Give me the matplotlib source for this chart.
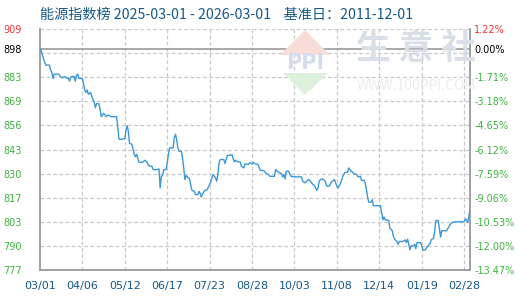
import numpy as np
import matplotlib
matplotlib.use("Agg")
import matplotlib.pyplot as plt
from matplotlib.patches import Polygon

plt.rcParams['font.family'] = ['Noto Sans CJK SC', 'DejaVu Sans']

# days after 2025-03-01 and index value
days = [0, 1, 2, 3, 4, 5, 8, 9, 10, 11, 12, 16, 17, 19, 21, 22, 24, 25, 26, 27,
        29, 30, 31, 32, 33, 36, 37, 38, 39, 40, 41, 43, 44, 45, 46, 47, 48, 50, 51, 52,
        54, 55, 56, 58, 60, 65, 66, 67, 68, 72, 73, 74, 75, 76, 78, 79, 80, 81, 82, 84,
        87, 89, 91, 92,
        95, 96, 100, 101, 102, 103, 104, 105, 107, 108, 109, 110, 113, 114, 115, 116,
        117, 118, 120, 121, 122, 123, 124, 126, 127, 128, 129, 131, 132, 134, 135, 136,
        137, 138, 140, 142, 143, 144, 146, 147, 149, 150, 151, 152, 153, 156, 157, 158,
        159, 163, 164, 165, 166, 168, 170,
        171, 173, 174, 177, 178, 180, 181, 182, 185, 187, 190, 192, 194, 195, 199, 200,
        202, 204, 205, 206, 207, 208, 209, 211, 213, 216, 222, 223, 225, 226, 228, 229,
        231, 233, 234, 235, 236, 237, 238, 240, 242, 243, 244, 246, 247, 248, 250, 251,
        252, 253, 254, 255, 256, 257, 259, 261, 262, 264, 265, 267, 269, 270, 272,
        273, 275, 276, 277, 278, 279, 281, 282, 283, 289, 290, 291, 292, 293, 296, 297,
        299, 300, 301, 303, 304, 305, 308, 310, 311, 312, 313, 314, 315, 317, 318, 319,
        320, 323, 324, 325, 327, 329, 331, 332, 334, 335, 336, 338, 339, 340, 341, 342,
        345, 347, 348, 350, 352, 360, 361, 362, 363, 364, 365]
values = [898.0, 897.1, 894.7, 892.5, 890.7, 889.2, 889.2, 886.6, 885.2, 881.9, 884.3, 884.3, 883.2, 882.2, 883.0, 882.2, 882.1, 880.4, 882.4, 883.0,
          883.0, 880.4, 883.7, 884.3, 881.9, 881.9, 878.8, 875.5, 874.2, 875.6, 873.3, 874.2, 872.0, 870.5, 869.0, 865.9, 868.1, 868.1, 865.0, 861.0,
          862.8, 862.1, 861.0, 861.9, 861.0, 861.0, 855.5, 848.9, 848.5, 848.9, 853.6, 856.0, 853.1, 846.3, 845.9, 843.0, 840.3, 839.0, 840.3, 836.0,
          836.0, 837.1, 836.0, 834.2,
          833.8, 832.0, 832.0, 832.4, 821.9, 828.3, 828.7, 832.0, 832.0, 835.7, 840.3, 843.9, 843.9, 849.4, 851.3, 848.5,
          843.9, 842.1, 842.1, 838.4, 832.9, 826.5, 828.7, 827.4, 826.9, 823.2, 820.6, 820.1, 818.3, 818.3, 820.1, 818.8,
          817.0, 818.8, 820.6, 821.0, 822.8, 823.8, 827.4, 829.3, 827.4, 825.6, 829.3, 835.7, 837.5, 837.5, 835.3, 837.5,
          839.7, 840.1, 837.9, 836.2, 837.1, 836.2, 836.2,
          833.8, 832.9, 835.1, 834.8, 835.7, 835.1, 836.0, 835.3, 834.8, 831.5, 831.5, 829.8, 829.3, 828.3, 828.3, 832.0,
          830.7, 830.2, 829.8, 828.0, 829.3, 826.9, 831.1, 831.1, 828.3, 828.0, 828.0, 825.6, 824.7, 825.6, 826.5, 826.1,
          824.3, 823.2, 821.9, 820.6, 821.9, 825.6, 826.5, 826.9, 825.6, 823.8, 822.8, 823.2, 824.7, 825.6, 826.5, 824.7,
          822.8, 821.9, 823.2, 824.3, 826.1, 828.3, 830.5, 830.5, 832.9, 831.1, 830.7, 829.6, 829.3, 828.0, 828.3,
          826.1, 826.1, 824.7, 821.4, 817.3, 814.2, 814.2, 815.5, 812.2, 812.2, 808.5, 804.5, 806.0, 804.5, 804.1, 799.9,
          798.6, 795.3, 793.9, 792.6, 791.1, 792.6, 792.6, 793.5, 792.0, 793.9, 791.1, 788.0, 790.2, 790.2, 791.1, 788.7,
          792.0, 792.0, 790.2, 788.0, 788.0, 790.2, 791.3, 793.5, 794.4, 798.1, 804.1, 804.1, 799.9, 795.0, 798.6, 798.5,
          798.5, 800.5, 801.8, 803.0, 803.4, 803.4, 804.9, 804.5, 803.0, 806.3, 810.0]

x_labels = ['03/01', '04/06', '05/12', '06/17', '07/23', '08/28', '10/03', '11/08', '12/14', '01/19', '02/28']
y_ticks = [777, 790.2, 803.4, 816.6, 829.8, 843.0, 856.2, 869.4, 882.6, 898, 909]
y_labels = ['777', '790', '803', '817', '830', '843', '856', '869', '883', '898', '909']
pct_labels = ['-13.47%', '-12.00%', '-10.53%', '-9.06%', '-7.59%', '-6.12%', '-4.65%',
              '-3.18%', '-1.71%', '0.00%', '1.22%']
base = 898
y_min, y_max = 777, 909

green = '#3cb43c'
red = '#ee3333'
blue_txt = '#17598a'
grid_c = '#c8c8c8'
spine_c = '#999999'

fig = plt.figure(figsize=(5.2, 3.0), dpi=100)
ax = fig.add_axes([40/520, 30/300, 430/520, 241/300])

# watermark
fig.patches.append(Polygon([[280/520, 1-55/300], [330/520, 1-55/300], [305/520, 1-30/300]],
                           closed=True, transform=fig.transFigure, facecolor='#f7dcd8', edgecolor='none', zorder=0))
fig.patches.append(Polygon([[283/520, 1-73/300], [328/520, 1-73/300], [305/520, 1-95/300]],
                           closed=True, transform=fig.transFigure, facecolor='#dcf0dc', edgecolor='none', zorder=0))
fig.text(305/520, 1-63/300, 'PPI', ha='center', va='center', fontsize=15, color='#d4dcec',
         family='DejaVu Sans', fontweight='bold', zorder=0)
fig.text(416/520, 1-49/300, '生 意 社', ha='center', va='center', fontsize=25, color='#d9dfe9',
         fontweight='bold', zorder=0)
fig.text(416/520, 1-86/300, 'WWW.100PPI.COM', ha='center', va='center', fontsize=10,
         color='#ececec', zorder=0)
ax.patch.set_alpha(0)

ax.set_xlim(0, 365)
ax.set_ylim(y_min, y_max)

for lv in np.linspace(y_min, y_max, 11)[1:]:
    ax.axhline(lv, color=grid_c, lw=0.9, ls=(0, (3, 2)), zorder=1)
x_ticks = np.arange(0, 361, 36)
for xv in x_ticks[1:]:
    ax.axvline(xv, color=grid_c, lw=0.9, ls=(0, (3, 2)), zorder=1)
ax.axhline(base, color=spine_c, lw=1.2, zorder=2)

ax.plot(days, values, color='#3a98d8', lw=1.0, zorder=3)

for s in ['left', 'bottom', 'right']:
    ax.spines[s].set_color(spine_c)
    ax.spines[s].set_linewidth(1.3)
ax.spines['top'].set_visible(False)

ax.set_xticks(x_ticks)
ax.set_xticklabels(x_labels, color=blue_txt, fontsize=8, family='DejaVu Sans')
ax.tick_params(axis='x', length=0, pad=8)

ax.set_yticks(y_ticks)
ax.set_yticklabels(y_labels, fontsize=7, family='DejaVu Sans')
ax.tick_params(axis='y', length=0, pad=13)
for i, t in enumerate(ax.get_yticklabels()):
    t.set_color(red if i == len(y_labels) - 1 else ('black' if i == len(y_labels) - 2 else green))

ax2 = ax.twinx()
ax2.set_ylim(y_min, y_max)
ax2.set_yticks(y_ticks)
ax2.set_yticklabels(pct_labels, fontsize=7, family='DejaVu Sans')
ax2.tick_params(axis='y', length=0, pad=3)
for s in ax2.spines.values():
    s.set_visible(False)
for i, t in enumerate(ax2.get_yticklabels()):
    t.set_color(red if i == len(pct_labels) - 1 else ('black' if i == len(pct_labels) - 2 else green))

fig.text(40/520, 1-15/300, '能源指数榜 2025-03-01 - 2026-03-01    基准日：2011-12-01',
         ha='left', va='center', fontsize=10.2, color=blue_txt)

fig.savefig('out.png', dpi=100)
